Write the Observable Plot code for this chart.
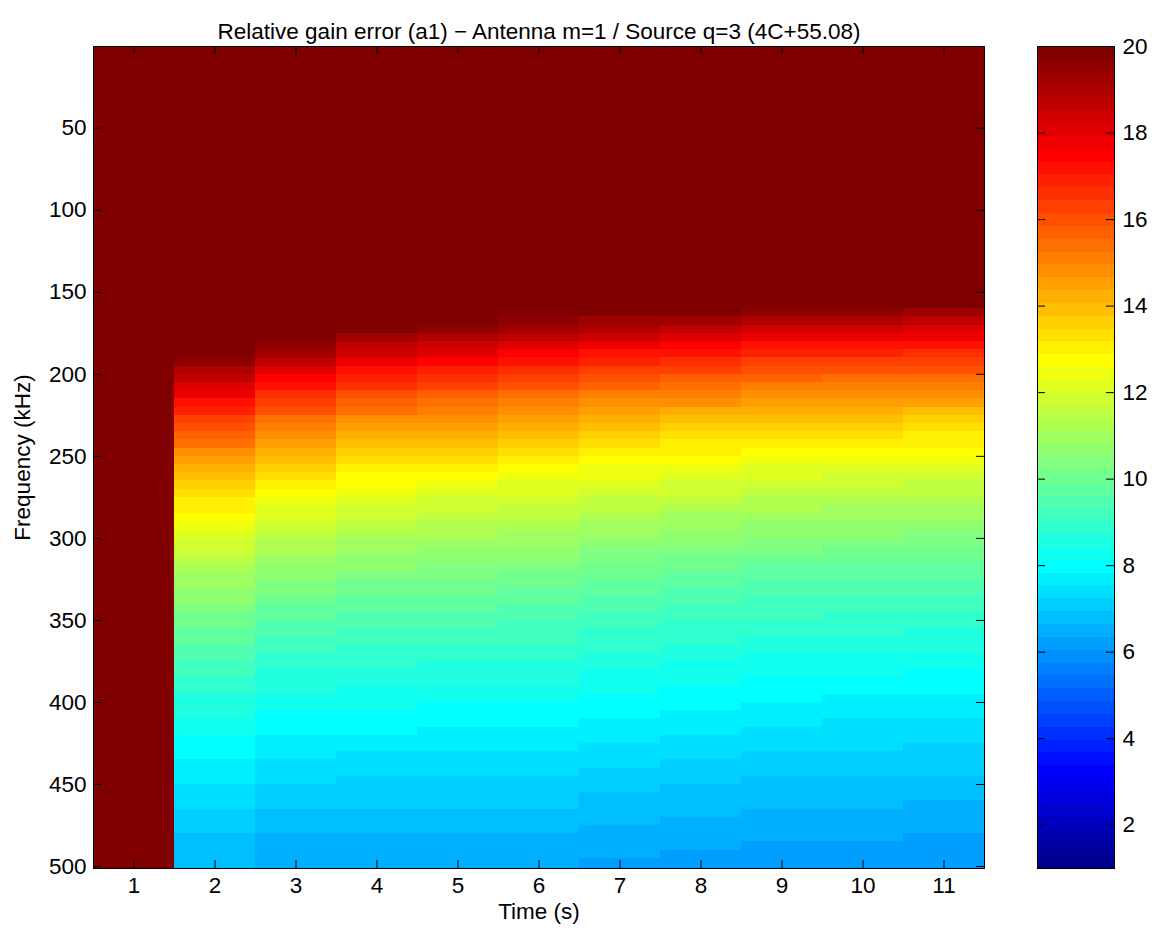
<!DOCTYPE html>
<html>
<head>
<meta charset="utf-8">
<script src="https://cdn.jsdelivr.net/npm/d3@7"></script>
<script src="https://cdn.jsdelivr.net/npm/@observablehq/plot@0.6"></script>
<style>
html,body{margin:0;padding:0;background:#fff;}
#wrap{position:relative;width:1152px;height:930px;background:#fff;}
#main{position:absolute;left:0;top:0;}
#cbar{position:absolute;left:1000px;top:0;}
</style>
</head>
<body>
<div id="wrap"><div id="main"></div><div id="cbar"></div></div>
<script>
// ---------------- data ----------------
const title = "Relative gain error (a1) \u2212 Antenna m=1 / Source q=3 (4C+55.08)";
const xLabel = "Time (s)";
const yLabel = "Frequency (kHz)";

const timeS = [1, 2, 3, 4, 5, 6, 7, 8, 9, 10, 11];
const freqTicks = [50, 100, 150, 200, 250, 300, 350, 400, 450, 500];
const colorTicks = [2, 4, 6, 8, 10, 12, 14, 16, 18, 20];
const colorMin = 1;
const colorMax = 20;

// frequency bins (kHz): edges of the rows of the image
const freqEdges = [0.2,160,165,170,175,180,185,190,195,200,205,210,215,220,225,230,235,240,245,250,255,260,265,270,275,280,285,290,295,300,305,310,315,320,325,330,335,340,345,350,355,360,365,370,375,380,385,390,395,400,405,410,415,420,425,430,435,440,445,450,455,460,465,470,475,480,485,490,495,501.2];

// relative gain error per time step, one value per frequency bin (saturated at 20)
const gain_t1 = [20,20,20,20,20,20,20,20,20,20,20,20,20,20,20,20,20,20,20,20,20,20,20,20,20,20,20,20,20,20,20,20,20,20,20,20,20,20,20,20,20,20,20,20,20,20,20,20,20,20,20,20,20,20,20,20,20,20,20,20,20,20,20,20,20,20,20,20,20];
const gain_t2 = [20,20,20,20,20,20,20,19.63,19.09,18.58,18.10,17.64,17.19,16.77,16.37,15.99,15.62,15.26,14.92,14.60,14.28,13.98,13.69,13.41,13.14,12.88,12.63,12.39,12.15,11.93,11.71,11.50,11.29,11.09,10.90,10.71,10.53,10.35,10.18,10.02,9.85,9.70,9.54,9.40,9.25,9.11,8.97,8.84,8.71,8.58,8.46,8.33,8.22,8.10,7.99,7.88,7.77,7.66,7.56,7.46,7.36,7.27,7.17,7.08,6.99,6.90,6.81,6.73,6.65];
const gain_t3 = [20,20,20,20,20,19.70,19.14,18.61,18.10,17.62,17.17,16.73,16.32,15.92,15.54,15.18,14.83,14.50,14.18,13.87,13.57,13.29,13.02,12.75,12.50,12.25,12.02,11.79,11.57,11.35,11.15,10.95,10.75,10.57,10.39,10.21,10.04,9.87,9.71,9.55,9.40,9.25,9.11,8.97,8.83,8.70,8.57,8.44,8.32,8.20,8.08,7.97,7.86,7.75,7.64,7.54,7.44,7.34,7.24,7.15,7.05,6.96,6.87,6.79,6.70,6.62,6.54,6.46,6.38];
const gain_t4 = [20,20,20,19.89,19.32,18.77,18.25,17.76,17.30,16.86,16.44,16.03,15.65,15.29,14.94,14.60,14.28,13.98,13.68,13.40,13.13,12.86,12.61,12.37,12.14,11.91,11.69,11.48,11.28,11.08,10.89,10.71,10.53,10.36,10.19,10.03,9.87,9.72,9.57,9.42,9.28,9.15,9.01,8.89,8.76,8.64,8.52,8.40,8.29,8.18,8.07,7.96,7.83,7.73,7.62,7.52,7.42,7.32,7.23,7.14,7.04,6.96,6.87,6.78,6.70,6.62,6.54,6.46,6.38];
const gain_t5 = [20,20,20,19.54,18.98,18.45,17.94,17.47,17.01,16.58,16.17,15.78,15.41,15.05,14.71,14.38,14.07,13.77,13.48,13.21,12.94,12.69,12.44,12.20,11.98,11.76,11.54,11.34,11.14,10.95,10.76,10.58,10.41,10.24,10.08,9.92,9.77,9.62,9.47,9.33,9.19,9.06,8.93,8.81,8.68,8.56,8.45,8.33,8.22,8.12,8.01,7.89,7.79,7.69,7.58,7.49,7.39,7.30,7.21,7.12,7.03,6.94,6.86,6.78,6.70,6.62,6.54,6.47,6.39];
const gain_t6 = [20,20,19.69,19.12,18.58,18.06,17.58,17.12,16.68,16.27,15.87,15.50,15.14,14.79,14.47,14.15,13.85,13.56,13.29,13.02,12.77,12.52,12.28,12.06,11.84,11.62,11.42,11.22,11.03,10.85,10.67,10.50,10.33,10.17,10.01,9.86,9.71,9.56,9.43,9.29,9.16,9.03,8.91,8.78,8.67,8.55,8.44,8.33,8.22,8.12,8.02,7.90,7.79,7.69,7.59,7.49,7.39,7.30,7.21,7.12,7.03,6.94,6.86,6.78,6.70,6.62,6.54,6.46,6.39];
const gain_t7 = [20,19.99,19.38,18.82,18.28,17.78,17.30,16.84,16.41,16.00,15.61,15.24,14.89,14.55,14.22,13.91,13.62,13.33,13.06,12.80,12.55,12.30,12.07,11.85,11.63,11.42,11.22,11.02,10.83,10.65,10.48,10.31,10.14,9.98,9.83,9.68,9.53,9.39,9.25,9.12,8.99,8.86,8.74,8.62,8.50,8.39,8.28,8.17,8.06,7.96,7.85,7.75,7.64,7.55,7.45,7.35,7.26,7.17,7.08,6.99,6.91,6.82,6.74,6.66,6.58,6.51,6.43,6.36,6.29];
const gain_t8 = [20,19.71,19.12,18.56,18.03,17.53,17.06,16.61,16.19,15.78,15.40,15.03,14.69,14.35,14.03,13.73,13.44,13.16,12.89,12.63,12.38,12.14,11.91,11.69,11.48,11.27,11.07,10.88,10.69,10.51,10.34,10.17,10.01,9.85,9.70,9.55,9.41,9.27,9.13,9.00,8.87,8.75,8.63,8.51,8.40,8.28,8.17,8.07,7.96,7.88,7.77,7.67,7.57,7.47,7.37,7.28,7.19,7.09,7.01,6.92,6.84,6.75,6.67,6.59,6.51,6.44,6.37,6.29,6.22];
const gain_t9 = [20,19.42,18.84,18.29,17.77,17.28,16.82,16.38,15.96,15.57,15.19,14.83,14.49,14.16,13.85,13.55,13.26,12.98,12.72,12.47,12.22,11.99,11.76,11.54,11.33,11.13,10.94,10.75,10.57,10.39,10.22,10.05,9.90,9.74,9.59,9.44,9.30,9.17,9.03,8.90,8.78,8.65,8.54,8.42,8.31,8.20,8.09,7.99,7.87,7.77,7.66,7.56,7.46,7.37,7.27,7.18,7.09,7.01,6.92,6.84,6.76,6.68,6.60,6.52,6.45,6.37,6.30,6.23,6.16];
const gain_t10 = [20,19.41,18.82,18.27,17.75,17.26,16.79,16.35,15.93,15.54,15.16,14.80,14.45,14.12,13.81,13.51,13.22,12.94,12.68,12.42,12.18,11.94,11.72,11.50,11.29,11.08,10.89,10.70,10.52,10.34,10.17,10.00,9.84,9.69,9.54,9.39,9.25,9.11,8.98,8.85,8.72,8.60,8.48,8.36,8.25,8.14,8.03,7.93,7.82,7.72,7.62,7.52,7.42,7.33,7.24,7.15,7.06,6.97,6.89,6.81,6.73,6.65,6.57,6.50,6.42,6.35,6.28,6.21,6.14];
const gain_t11 = [20,19.32,18.74,18.19,17.67,17.19,16.72,16.28,15.87,15.47,15.09,14.73,14.39,14.06,13.75,13.45,13.16,12.89,12.63,12.37,12.13,11.89,11.67,11.45,11.24,11.04,10.84,10.66,10.47,10.30,10.13,9.96,9.80,9.65,9.50,9.35,9.21,9.08,8.94,8.81,8.69,8.57,8.45,8.33,8.22,8.11,8.00,7.90,7.80,7.69,7.59,7.50,7.40,7.31,7.21,7.13,7.04,6.95,6.87,6.79,6.71,6.63,6.55,6.48,6.40,6.33,6.26,6.19,6.13];

const gainByTime = [gain_t1, gain_t2, gain_t3, gain_t4, gain_t5, gain_t6, gain_t7, gain_t8, gain_t9, gain_t10, gain_t11];

// ---------------- colormap (MATLAB jet, 64 levels) ----------------
function jetColors(n) {
  const m = Math.ceil(n / 4);
  const u = [];
  for (let i = 1; i <= m; i++) u.push(i / m);
  for (let i = 1; i < m; i++) u.push(1);
  for (let i = m; i >= 1; i--) u.push(i / m);
  const off = Math.ceil(m / 2) - (n % 4 === 1 ? 1 : 0);
  const R = new Array(n).fill(0), G = new Array(n).fill(0), B = new Array(n).fill(0);
  u.forEach((val, i) => {
    const g = off + i + 1;
    const r = g + m, b = g - m;
    if (g >= 1 && g <= n) G[g - 1] = val;
    if (r >= 1 && r <= n) R[r - 1] = val;
    if (b >= 1 && b <= n) B[b - 1] = val;
  });
  const c = v => Math.round(v * 255);
  return R.map((_, i) => `rgb(${c(R[i])},${c(G[i])},${c(B[i])})`);
}
const nColors = 64;
const jet = jetColors(nColors);
const step = (colorMax - colorMin) / nColors;
const thresholds = d3.range(1, nColors).map(k => colorMin + k * step);
const colorScale = {type: "threshold", domain: thresholds, range: jet};

// ---------------- table for the image cells ----------------
const cells = [];
timeS.forEach((t, i) => {
  gainByTime[i].forEach((v, r) => {
    if (r + 1 < freqEdges.length) cells.push({time: t, f1: freqEdges[r], f2: freqEdges[r + 1], gain: v});
  });
});
const levels = d3.range(nColors).map(k => ({lo: colorMin + k * step, hi: colorMin + (k + 1) * step}));

// ---------------- layout ----------------
const font = '"Liberation Sans", Arial, Helvetica, sans-serif';
const FS = 22.5;
const W = 1000, H = 930, mL = 93, mR = 16, mT = 46, mB = 62;
const frameW = W - mL - mR, frameH = H - mT - mB;
const tickLen = 8;

const main = Plot.plot({
  width: W, height: H,
  marginLeft: mL, marginRight: mR, marginTop: mT, marginBottom: mB,
  style: {fontFamily: font, fontSize: FS + "px", color: "#000", background: "#fff"},
  x: {type: "band", domain: timeS, padding: 0},
  y: {type: "linear", domain: [freqEdges[0], freqEdges[freqEdges.length - 1]], reverse: true},
  color: colorScale,
  marks: [
    Plot.barY(cells, {x: "time", y1: "f1", y2: "f2", fill: "gain", inset: 0, shapeRendering: "crispEdges"}),
    Plot.tickY(freqTicks, {y: d => d, insetRight: frameW - tickLen, stroke: "#000"}),
    Plot.tickY(freqTicks, {y: d => d, insetLeft: frameW - tickLen, stroke: "#000"}),
    Plot.tickX(timeS, {x: d => d, insetTop: frameH - tickLen, stroke: "#000"}),
    Plot.tickX(timeS, {x: d => d, insetBottom: frameH - tickLen, stroke: "#000"}),
    Plot.frame({stroke: "#000"}),
    Plot.axisX({ticks: timeS, tickSize: 0, tickPadding: 9, label: null, fontSize: FS}),
    Plot.axisY({ticks: freqTicks, tickSize: 0, tickPadding: 7, label: null, fontSize: FS}),
    Plot.text([yLabel], {frameAnchor: "left", textAnchor: "middle", rotate: -90, dx: -71, fontSize: FS}),
    Plot.text([xLabel], {frameAnchor: "bottom", textAnchor: "middle", dy: 50, fontSize: FS}),
    Plot.text([title], {frameAnchor: "top", textAnchor: "middle", dy: -23, fontSize: FS})
  ]
});
document.getElementById("main").appendChild(main);

const CW = 152, cL = 37, cR = 38;
const cFrameW = CW - cL - cR;
const cbar = Plot.plot({
  width: CW, height: H,
  marginLeft: cL, marginRight: cR, marginTop: mT, marginBottom: mB,
  style: {fontFamily: font, fontSize: FS + "px", color: "#000", background: "#fff"},
  y: {type: "linear", domain: [colorMin, colorMax]},
  color: colorScale,
  marks: [
    Plot.barY(levels, {y1: "lo", y2: "hi", fill: d => (d.lo + d.hi) / 2, inset: 0, shapeRendering: "crispEdges"}),
    Plot.tickY(colorTicks, {y: d => d, insetRight: cFrameW - tickLen, stroke: "#000"}),
    Plot.tickY(colorTicks, {y: d => d, insetLeft: cFrameW - tickLen, stroke: "#000"}),
    Plot.frame({stroke: "#000"}),
    Plot.axisY({anchor: "right", ticks: colorTicks, tickSize: 0, tickPadding: 8, label: null, fontSize: FS})
  ]
});
document.getElementById("cbar").appendChild(cbar);
</script>
</body>
</html>
